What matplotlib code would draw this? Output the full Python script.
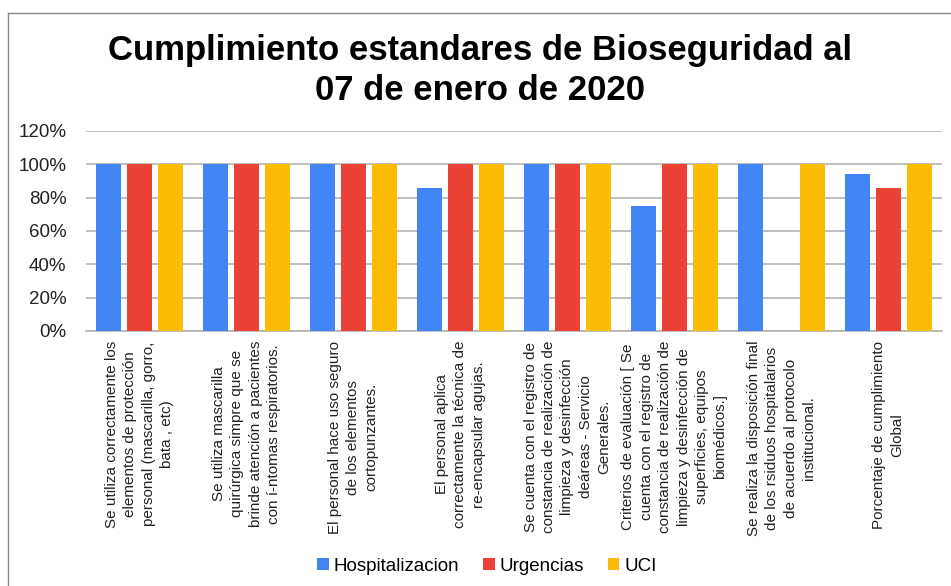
import matplotlib
matplotlib.use("Agg")
import matplotlib.pyplot as plt
from matplotlib.lines import Line2D
import numpy as np

plt.rcParams['font.family'] = ['Liberation Sans', 'DejaVu Sans']

categories = [
    "Se utiliza correctamente los\nelementos de protección\npersonal (mascarilla, gorro,\nbata , etc)",
    "Se utiliza mascarilla\nquirúrgica simpre que se\nbrinde atención a pacientes\ncon í-ntomas respiratorios.",
    "El personal hace uso seguro\nde los elementos\ncortopunzantes.",
    "El personal aplica\ncorrectamente la técnica de\nre-encapsular agujas.",
    "Se cuenta con el registro de\nconstancia de realización de\nlimpieza y desinfección\ndeáreas - Servicio\nGenerales.",
    "Criterios de evaluación [ Se\ncuenta con el registro de\nconstancia de realización de\nlimpieza y desinfección de\nsuperficies, equipos\nbiomédicos.]",
    "Se realiza la disposición final\nde los rsiduos hospitalarios\nde acuerdo al protocolo\ninstitucional.",
    "Porcentaje de cumplimiento\nGlobal",
]
hospitalizacion = [1.0, 1.0, 1.0, 0.857, 1.0, 0.75, 1.0, 0.944]
urgencias = [1.0, 1.0, 1.0, 1.0, 1.0, 1.0, 0.0, 0.857]
uci = [1.0, 1.0, 1.0, 1.0, 1.0, 1.0, 1.0, 1.0]
series_names = ["Hospitalizacion", "Urgencias", "UCI"]
colors = ["#4285F4", "#EA4335", "#FBBC04"]
yticks = [0, 0.2, 0.4, 0.6, 0.8, 1.0, 1.2]
ytick_labels = ["0%", "20%", "40%", "60%", "80%", "100%", "120%"]

fig = plt.figure(figsize=(9.51, 5.86), dpi=100)
ax = fig.add_axes([0.0904, 0.4352, 0.9001, 0.3413])

x = np.arange(len(categories))
w = 0.235
off = 0.29
for i, (vals, name, c) in enumerate(zip([hospitalizacion, urgencias, uci], series_names, colors)):
    ax.bar(x + (i - 1) * off, vals, width=w, color=c, label=name, zorder=3)

ax.set_xlim(-0.5, len(categories) - 0.5)
ax.set_ylim(0, 1.2)
ax.set_yticks(yticks)
ax.set_yticklabels(ytick_labels, fontsize=13.5, color='#222222')
ax.yaxis.grid(True, color='#b3b3b3', linewidth=1.2, zorder=0)
ax.set_axisbelow(True)
for s in ['top', 'right', 'left']:
    ax.spines[s].set_visible(False)
ax.spines['bottom'].set_color('#b3b3b3')
ax.spines['bottom'].set_linewidth(1.2)
ax.tick_params(axis='y', length=0, pad=14)
ax.tick_params(axis='x', length=0, pad=7)
ax.set_xticks(x)
ax.set_xticklabels(categories, rotation=90, fontsize=11, color='#222222',
                   ha='center', va='top', multialignment='center', linespacing=1.4)

fig.text(0.505, 0.88, "Cumplimiento estandares de Bioseguridad al\n07 de enero de 2020",
         ha='center', va='center', fontsize=25, fontweight='bold', linespacing=1.28)

ax.legend(loc='center', bbox_to_anchor=(0.512, 0.034), bbox_transform=fig.transFigure,
          ncol=3, frameon=False, fontsize=13.5, handlelength=0.6, handleheight=0.6,
          handletextpad=0.25, columnspacing=1.3)

fig.add_artist(Line2D([8/951, 1], [1 - 13/586, 1 - 13/586], transform=fig.transFigure,
                      color='#888888', linewidth=1))
fig.add_artist(Line2D([8/951, 8/951], [0, 1 - 13/586], transform=fig.transFigure,
                      color='#888888', linewidth=1))

fig.savefig("out.png", dpi=100)
